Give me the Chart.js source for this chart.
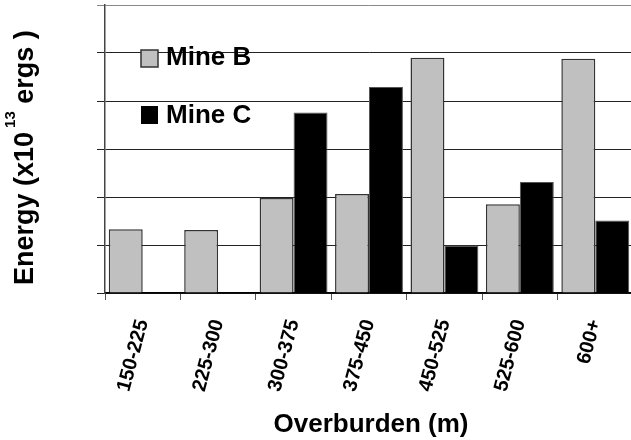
<!DOCTYPE html>
<html>
<head>
<meta charset="utf-8">
<script src="https://cdn.jsdelivr.net/npm/chart.js@4.4.1/dist/chart.umd.min.js"></script>
<style>
    html, body { margin: 0; padding: 0; background: #fff; overflow: hidden; }
    #wrap { width: 640px; height: 440px; }
</style>
</head>
<body>
<div id="wrap"><canvas id="energyChart" width="640" height="440"></canvas></div>
<script>
const categorias = ['150-225', '225-300', '300-375', '375-450', '450-525', '525-600', '600+'];
const mineB = [1.33, 1.31, 1.98, 2.06, 4.90, 1.85, 4.88];
const mineC = [null, null, 3.76, 4.29, 0.99, 2.31, 1.51];
const yMax = 6;

const FONT = '"Liberation Sans", Arial, sans-serif';

// leyenda y titulos dibujados a mano (superindice y leyenda dentro del area)
const textosPlugin = {
    id: 'textos',
    afterDraw(chart) {
        const ctx = chart.ctx;
        const area = chart.chartArea;
        ctx.save();
        ctx.fillStyle = '#000';
        ctx.textBaseline = 'alphabetic';
        ctx.textAlign = 'left';

        // leyenda
        ctx.lineWidth = 1.5;
        ctx.fillStyle = '#c0c0c0';
        ctx.strokeStyle = '#333';
        ctx.fillRect(141, 50, 17, 17);
        ctx.strokeRect(141, 50, 17, 17);
        ctx.fillStyle = '#000';
        ctx.fillRect(141, 106, 17, 18);
        ctx.font = 'bold 26px ' + FONT;
        ctx.fillText('Mine B', 166, 65);
        ctx.fillText('Mine C', 166, 123);

        // titulo eje x
        ctx.textAlign = 'center';
        ctx.fillText('Overburden (m)', (area.left + area.right) / 2 + 2, 432);

        // titulo eje y con superindice
        ctx.textAlign = 'left';
        ctx.translate(33, 285);
        ctx.rotate(-Math.PI / 2);
        ctx.font = 'bold 27px ' + FONT;
        const p1 = 'Energy (x10';
        ctx.fillText(p1, 0, 0);
        let x = ctx.measureText(p1).width + 4;
        ctx.font = 'bold 15px ' + FONT;
        ctx.fillText('13', x, -18);
        x += ctx.measureText('13').width;
        ctx.font = 'bold 27px ' + FONT;
        ctx.fillText(' ergs )', x, 0);
        ctx.restore();
    }
};

(()=>{
    const ctx = document.querySelector('#energyChart');
    new Chart(ctx, {
        type: 'bar',
        data: {
            labels: categorias,
            datasets: [
                {
                    label: 'Mine B',
                    data: mineB,
                    backgroundColor: '#c0c0c0',
                    borderColor: '#333',
                    borderWidth: 1.5,
                    borderSkipped: 'bottom',
                    categoryPercentage: 0.9,
                    barPercentage: 1.0
                },
                {
                    label: 'Mine C',
                    data: mineC,
                    backgroundColor: '#000',
                    borderColor: '#555',
                    borderWidth: 1,
                    borderSkipped: 'bottom',
                    categoryPercentage: 0.9,
                    barPercentage: 1.0
                }
            ]
        },
        options: {
            responsive: false,
            animation: false,
            devicePixelRatio: 1,
            layout: {
                padding: { left: 97, right: 7, top: 5, bottom: 0 }
            },
            plugins: {
                legend: { display: false },
                tooltip: { enabled: false },
                title: { display: false }
            },
            scales: {
                x: {
                    offset: true,
                    afterFit: function(scale) { scale.height = 147; },
                    grid: {
                        offset: true,
                        drawOnChartArea: false,
                        drawTicks: true,
                        tickLength: 7,
                        color: '#555',
                        lineWidth: 1
                    },
                    border: { display: true, color: '#000', width: 1.5 },
                    ticks: {
                        autoSkip: false,
                        minRotation: 75,
                        maxRotation: 75,
                        padding: 17,
                        color: '#000',
                        font: { family: FONT, size: 20, weight: 'bold' }
                    }
                },
                y: {
                    min: 0,
                    max: yMax,
                    afterFit: function(scale) { scale.width = 8; },
                    grid: {
                        drawTicks: true,
                        tickLength: 8,
                        lineWidth: 1,
                        color: function(context) {
                            return context.tick && context.tick.value === yMax ? '#888' : '#222';
                        }
                    },
                    border: { display: true, color: '#444', width: 1.5 },
                    ticks: {
                        display: false,
                        stepSize: 1
                    }
                }
            }
        },
        plugins: [textosPlugin]
    });
})();
</script>
</body>
</html>
